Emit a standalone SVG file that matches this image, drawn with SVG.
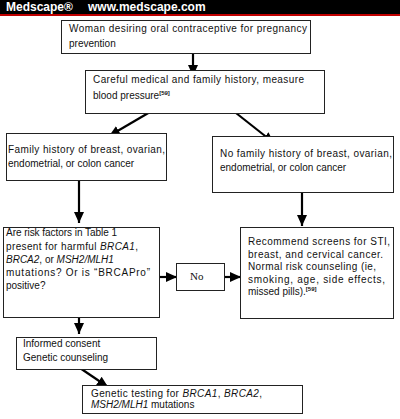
<svg xmlns="http://www.w3.org/2000/svg" width="400" height="419" viewBox="0 0 400 419">
<style>
.box{fill:#fff;stroke:#222;stroke-width:1}
.t{font-family:"Liberation Sans",Arial,sans-serif;font-size:10px;fill:#111}
.i{font-style:italic}
.sup{font-size:6px;font-weight:bold}
.hdr{font-family:"Liberation Sans",Arial,sans-serif;font-size:12px;font-weight:bold;fill:#fff}
.con{stroke:#000;stroke-width:2.2;fill:none;marker-end:url(#ah)}
</style>
<defs>
<marker id="ah" markerUnits="userSpaceOnUse" markerWidth="12" markerHeight="12" viewBox="0 0 12 12" refX="11" refY="6" orient="auto">
<path d="M0,1 L11,6 L0,11 Z" fill="#000"/>
</marker>
</defs>
<rect width="400" height="419" fill="#fff"/>
<g id="header">
<rect x="0" y="0" width="400" height="14" fill="#000"/>
<rect x="0" y="14" width="400" height="2" fill="#c00000"/>
<text class="hdr" x="6" y="11">Medscape®</text>
<text class="hdr" x="88" y="11">www.medscape.com</text>
</g>
<g id="connectors">
<line class="con" x1="193" y1="53" x2="193" y2="76"/>
<line class="con" x1="150" y1="112" x2="109" y2="136"/>
<line class="con" x1="236" y1="113" x2="274" y2="143"/>
<line class="con" x1="79" y1="180" x2="79" y2="223"/>
<line class="con" x1="302" y1="180" x2="302" y2="226"/>
<line class="con" x1="153" y1="277" x2="177" y2="277"/>
<line class="con" x1="225" y1="277" x2="241" y2="277"/>
<line class="con" x1="79" y1="317" x2="79" y2="334"/>
<line class="con" x1="77" y1="366" x2="108" y2="387"/>
</g>
<g id="n1">
<rect class="box" x="61.5" y="20.5" width="249" height="33"/>
<text class="t" x="69" y="32" textLength="238" lengthAdjust="spacing">Woman desiring oral contraceptive for pregnancy</text>
<text class="t" x="69" y="47">prevention</text>
</g>
<g id="n2">
<rect class="box" x="85.5" y="70.5" width="239" height="43"/>
<text class="t" x="93" y="83" textLength="211" lengthAdjust="spacing">Careful medical and family history, measure</text>
<text class="t" x="93" y="99">blood pressure<tspan class="sup" dy="-4">[59]</tspan></text>
</g>
<g id="n3">
<rect class="box" x="6.5" y="133.5" width="160" height="47"/>
<text class="t" x="8" y="153" textLength="157" lengthAdjust="spacing">Family history of breast, ovarian,</text>
<text class="t" x="8" y="167">endometrial, or colon cancer</text>
</g>
<g id="n4">
<rect class="box" x="212.5" y="136.5" width="181" height="56"/>
<text class="t" x="220" y="157" textLength="172" lengthAdjust="spacing">No family history of breast, ovarian,</text>
<text class="t" x="220" y="171">endometrial, or colon cancer</text>
</g>
<g id="n5">
<rect class="box" x="3.5" y="227.5" width="156" height="90"/>
<text class="t" x="6" y="236" textLength="111" lengthAdjust="spacing">Are risk factors in Table 1</text>
<text class="t" x="6" y="250" textLength="132" lengthAdjust="spacing">present for harmful <tspan class="i">BRCA1</tspan>,</text>
<text class="t" x="6" y="263"><tspan class="i">BRCA2</tspan>, or <tspan class="i">MSH2/MLH1</tspan></text>
<text class="t" x="6" y="276" textLength="144" lengthAdjust="spacing">mutations?  Or is “BRCAPro”</text>
<text class="t" x="6" y="289">positive?</text>
</g>
<g id="n6">
<rect class="box" x="176.5" y="263.5" width="48" height="27"/>
<text x="190" y="280" font-family="'Liberation Serif','Times New Roman',serif" font-size="11" fill="#111">No</text>
</g>
<g id="n7">
<rect class="box" x="240.5" y="227.5" width="153" height="91"/>
<text class="t" x="248" y="245" textLength="142" lengthAdjust="spacing">Recommend screens for STI,</text>
<text class="t" x="248" y="258" textLength="135" lengthAdjust="spacing">breast, and cervical cancer.</text>
<text class="t" x="248" y="270" textLength="128" lengthAdjust="spacing">Normal risk counseling (ie,</text>
<text class="t" x="248" y="283" textLength="137" lengthAdjust="spacing">smoking, age, side effects,</text>
<text class="t" x="248" y="295">missed pills).<tspan class="sup" dy="-4">[59]</tspan></text>
</g>
<g id="n8">
<rect class="box" x="16.5" y="337.5" width="140" height="32"/>
<text class="t" x="23" y="347">Informed consent</text>
<text class="t" x="23" y="361">Genetic counseling</text>
</g>
<g id="n9">
<rect class="box" x="82.5" y="385.5" width="220" height="28"/>
<text class="t" x="91" y="397" textLength="171" lengthAdjust="spacing">Genetic testing for <tspan class="i">BRCA1</tspan>,  <tspan class="i">BRCA2</tspan>,</text>
<text class="t" x="91" y="408"><tspan class="i">MSH2/MLH1</tspan> mutations</text>
</g>
</svg>
